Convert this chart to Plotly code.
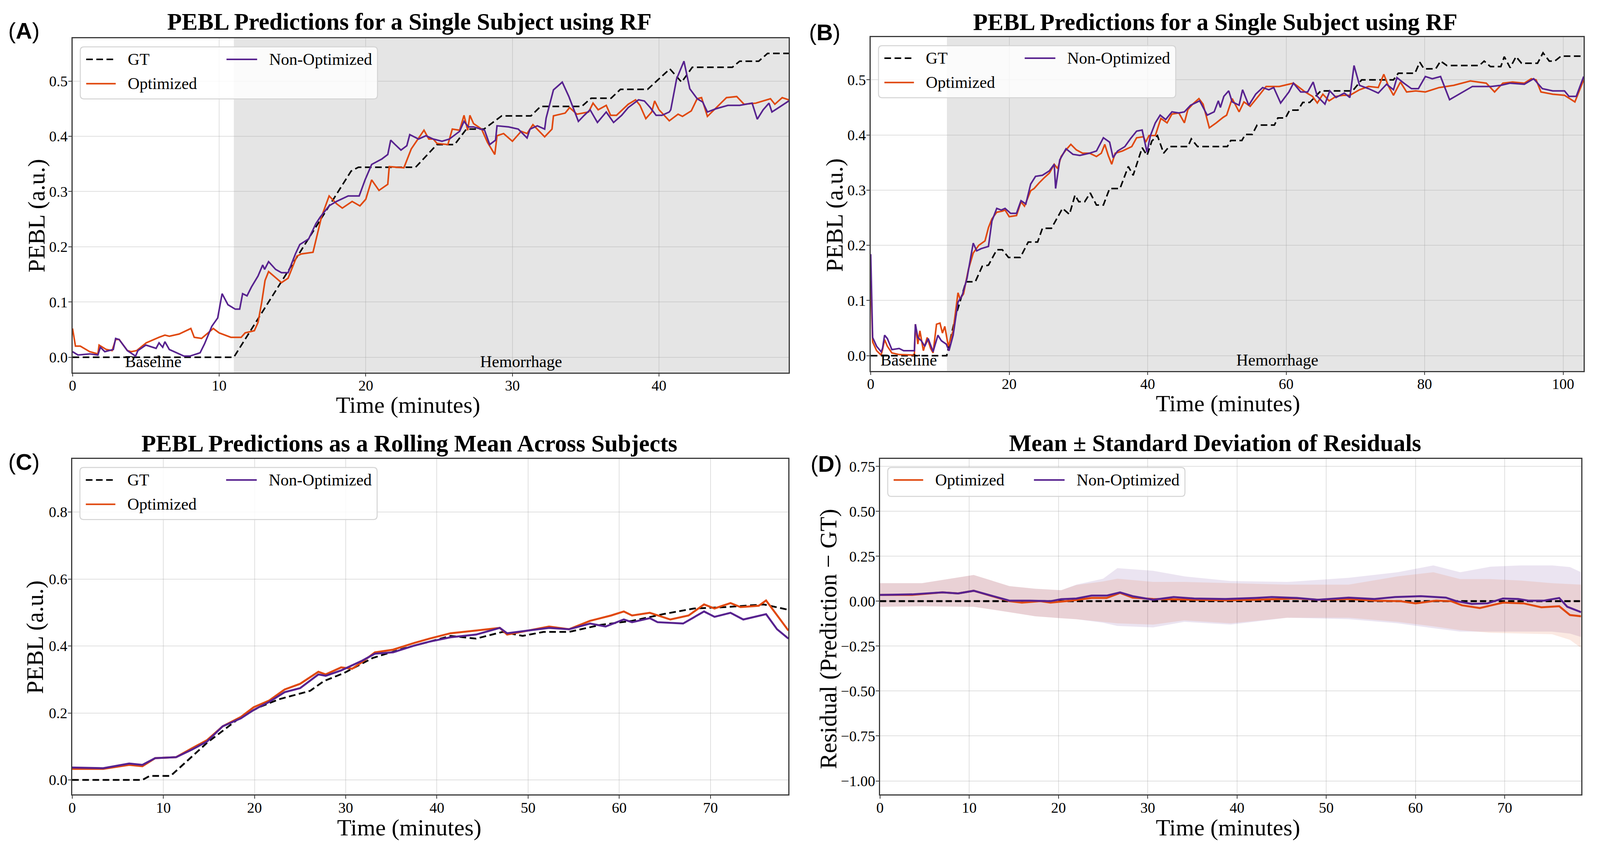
import plotly.graph_objects as go

W, H = 4332, 2179
FONT = "Liberation Serif"
ORANGE = "#e0480e"
PURPLE = "#57228f"
SPINE = "#3a3a3a"
GRID = "rgba(160,160,160,0.32)"
FS = 0.96  # font scale for the rendered page

# ---------------- data ----------------
hem_start = 11.0

# (A) single subject, short recording
a_gt_t = [0, 11.0, 19.0, 19.5, 23.4, 24.85, 26.06, 26.86, 28.06, 29.27, 31.27, 31.92, 34.73, 35.37,
          36.73, 37.37, 39.22, 40.74, 41.54, 42.27, 45.0, 45.5, 46.8, 47.4, 48.85]
a_gt_v = [0, 0, 0.337, 0.344, 0.344, 0.385, 0.385, 0.413, 0.413, 0.437, 0.437, 0.454, 0.454, 0.469,
          0.469, 0.485, 0.485, 0.522, 0.498, 0.525, 0.525, 0.536, 0.536, 0.550, 0.550]

a_opt_t = [0, 0.2, 0.53, 1.17, 1.73, 1.81, 2.3, 2.7, 2.94, 3.18, 3.74, 4.0, 4.38, 5.02, 5.9, 6.3, 6.6,
           7.27, 8.07, 8.3, 8.8, 9.6, 10.0, 10.8, 11.5, 11.77, 12.4, 12.65, 12.9, 13.13, 13.37, 14.25,
           14.7, 15.3, 15.6, 16.4, 16.98, 17.5, 18.0, 18.4, 19.07, 19.6, 20.0, 20.4, 20.9, 21.5, 21.6,
           22.6, 23.1, 23.5, 23.97, 24.3, 24.6, 24.86, 25.6, 25.9, 26.4, 26.7, 26.95, 27.1, 27.35, 27.9,
           28.3, 28.8, 28.95, 29.4, 30.0, 30.6, 31.0, 31.4, 32.2, 32.7, 32.8, 33.6, 33.9, 34.4, 35.2,
           35.5, 35.85, 36.4, 36.7, 37.1, 37.9, 38.4, 38.7, 39.1, 39.5, 39.7, 40.0, 40.7, 41.3, 41.6,
           42.2, 42.6, 42.9, 43.3, 43.9, 44.6, 45.3, 45.8, 46.6, 47.6, 47.9, 48.4, 48.85]
a_opt_v = [0.052, 0.020, 0.020, 0.010, 0.006, 0.022, 0.014, 0.012, 0.032, 0.032, 0.012, 0.010, 0.012,
           0.026, 0.036, 0.040, 0.038, 0.042, 0.052, 0.036, 0.034, 0.052, 0.044, 0.036, 0.036, 0.044,
           0.048, 0.063, 0.099, 0.139, 0.155, 0.135, 0.143, 0.183, 0.187, 0.190, 0.254, 0.292, 0.278,
           0.270, 0.282, 0.274, 0.286, 0.321, 0.302, 0.313, 0.345, 0.343, 0.377, 0.393, 0.411, 0.395,
           0.395, 0.387, 0.385, 0.413, 0.411, 0.438, 0.411, 0.438, 0.423, 0.413, 0.389, 0.367, 0.401,
           0.405, 0.391, 0.409, 0.405, 0.421, 0.399, 0.413, 0.437, 0.442, 0.452, 0.440, 0.444, 0.460,
           0.448, 0.456, 0.438, 0.438, 0.458, 0.466, 0.456, 0.432, 0.444, 0.464, 0.448, 0.428, 0.440,
           0.436, 0.446, 0.468, 0.470, 0.436, 0.452, 0.470, 0.472, 0.458, 0.460, 0.468, 0.458, 0.470,
           0.466]

a_non_t = [0, 0.37, 1.17, 1.73, 1.9, 2.2, 2.78, 2.94, 3.18, 3.74, 4.3, 4.46, 5.0, 5.7, 5.9, 6.15, 6.3,
           6.6, 7.6, 8.0, 8.7, 9.0, 9.5, 9.9, 10.2, 10.6, 11.1, 11.4, 11.6, 11.9, 12.2, 12.65, 12.97,
           13.1, 13.37, 13.85, 14.25, 14.7, 15.2, 15.5, 16.1, 16.6, 16.9, 17.5, 18.0, 18.8, 19.55,
           19.95, 20.4, 21.1, 21.5, 21.7, 22.0, 22.4, 22.8, 23.0, 23.6, 24.1, 24.6, 25.2, 25.7, 26.4,
           26.7, 27.0, 27.35, 28.1, 28.45, 28.85, 28.95, 29.75, 30.4, 31.0, 31.2, 31.7, 32.2, 32.3,
           32.8, 33.4, 33.85, 34.5, 34.9, 35.3, 35.8, 36.4, 36.9, 37.45, 37.9, 38.6, 39.0, 39.4, 39.8,
           40.2, 40.7, 40.8, 41.2, 41.7, 42.1, 42.6, 42.98, 43.3, 43.9, 44.7, 45.5, 46.35, 46.7, 47.1,
           47.5, 47.7, 48.05, 48.7, 48.85]
a_non_v = [0.010, 0.004, 0.006, 0.004, 0.018, 0.010, 0.014, 0.034, 0.032, 0.012, 0.002, 0.012, 0.022,
           0.016, 0.026, 0.018, 0.028, 0.014, 0.002, 0.002, 0.008, 0.024, 0.056, 0.071, 0.115, 0.095,
           0.087, 0.087, 0.115, 0.111, 0.127, 0.147, 0.167, 0.159, 0.173, 0.159, 0.153, 0.153, 0.187,
           0.204, 0.214, 0.242, 0.254, 0.274, 0.282, 0.292, 0.292, 0.321, 0.349, 0.359, 0.367, 0.393,
           0.385, 0.375, 0.383, 0.403, 0.395, 0.401, 0.395, 0.391, 0.395, 0.409, 0.427, 0.417, 0.417,
           0.411, 0.385, 0.393, 0.419, 0.417, 0.413, 0.397, 0.413, 0.419, 0.413, 0.433, 0.484, 0.498,
           0.472, 0.427, 0.438, 0.448, 0.425, 0.444, 0.425, 0.438, 0.452, 0.466, 0.464, 0.452, 0.438,
           0.438, 0.444, 0.448, 0.504, 0.536, 0.486, 0.468, 0.462, 0.444, 0.450, 0.456, 0.456, 0.460,
           0.431, 0.448, 0.460, 0.444, 0.450, 0.462, 0.464]

# (B) single subject, long recording
b_gt_t = [0, 10.97, 12.2, 13.75, 15.1, 16.1, 17.0, 18.2, 19.0, 19.9, 21.6, 22.75, 24.1, 24.8, 26.1,
          27.7, 28.7, 29.5, 30.05, 30.9, 31.7, 32.6, 33.6, 34.5, 36.0, 37.2, 37.9, 39.2, 39.9, 40.6,
          41.4, 42.3, 43.1, 45.8, 46.3, 47.2, 51.5, 52.0, 53.6, 54.1, 55.1, 55.8, 58.3, 58.8, 59.9,
          60.5, 61.7, 62.4, 63.4, 65.0, 69.6, 70.9, 75.5, 76.2, 78.6, 79.3, 79.9, 81.6, 82.3, 83.2,
          87.9, 88.6, 89.5, 91.0, 91.5, 92.35, 93.2, 94.0, 96.3, 97.1, 98.0, 98.8, 99.7, 102.97]
b_gt_v = [0, 0, 0.069, 0.134, 0.134, 0.162, 0.164, 0.192, 0.192, 0.178, 0.178, 0.206, 0.206, 0.231,
          0.231, 0.267, 0.256, 0.291, 0.279, 0.279, 0.295, 0.273, 0.273, 0.303, 0.303, 0.343, 0.327,
          0.377, 0.363, 0.389, 0.399, 0.367, 0.379, 0.379, 0.393, 0.379, 0.379, 0.390, 0.390, 0.401,
          0.401, 0.418, 0.418, 0.431, 0.431, 0.445, 0.445, 0.459, 0.459, 0.480, 0.480, 0.500, 0.500,
          0.512, 0.512, 0.532, 0.520, 0.520, 0.534, 0.526, 0.526, 0.534, 0.524, 0.524, 0.542, 0.522,
          0.542, 0.530, 0.530, 0.549, 0.534, 0.534, 0.543, 0.543]

b_opt_t = [0, 0.27, 0.85, 1.5, 1.7, 2.0, 2.4, 3.05, 4.1, 6.3, 6.45, 6.8, 7.1, 7.6, 8.15, 8.65, 9.0, 9.5,
           10.0, 10.35, 10.7, 11.2, 11.9, 12.6, 12.9, 13.4, 14.1, 14.8, 15.6, 16.5, 17.0, 17.5, 18.2,
           19.0, 19.4, 20.0, 21.05, 21.7, 22.2, 23.1, 23.6, 24.3, 25.1, 25.8, 26.5, 27.0, 27.5, 28.2,
           28.9, 29.7, 30.6, 31.6, 32.6, 33.3, 33.8, 34.3, 34.8, 35.3, 36.35, 37.7, 38.4, 39.4, 39.7,
           40.2, 41.1, 41.9, 42.8, 43.5, 44.5, 45.3, 45.8, 46.5, 47.4, 48.0, 48.9, 49.9, 50.9, 51.4,
           52.2, 53.2, 53.9, 54.8, 56.1, 57.1, 59.0, 61.05, 61.7, 62.75, 63.8, 64.5, 65.3, 66.2, 67.2,
           68.2, 69.2, 70.6, 71.9, 73.3, 74.1, 74.8, 75.5, 76.5, 77.4, 78.7, 80.1, 82.1, 84.2, 86.6,
           88.9, 90.1, 91.3, 92.7, 94.4, 95.4, 96.1, 96.8, 98.5, 100.2, 101.7, 102.97]
b_opt_v = [0.136, 0.025, 0.009, 0.001, 0.011, 0.029, 0.017, 0.005, 0.002, 0.001, 0.057, 0.021, 0.045,
           0.009, 0.033, 0.013, 0.005, 0.057, 0.059, 0.041, 0.053, 0.017, 0.045, 0.114, 0.103, 0.112,
           0.156, 0.186, 0.200, 0.208, 0.232, 0.248, 0.260, 0.262, 0.264, 0.252, 0.254, 0.279, 0.271,
           0.299, 0.303, 0.313, 0.323, 0.331, 0.347, 0.339, 0.361, 0.373, 0.383, 0.373, 0.367, 0.367,
           0.361, 0.367, 0.383, 0.363, 0.347, 0.367, 0.371, 0.379, 0.395, 0.397, 0.387, 0.399, 0.399,
           0.430, 0.422, 0.438, 0.440, 0.422, 0.446, 0.456, 0.466, 0.456, 0.413, 0.422, 0.432, 0.436,
           0.466, 0.442, 0.460, 0.452, 0.472, 0.488, 0.488, 0.494, 0.488, 0.478, 0.470, 0.458, 0.474,
           0.462, 0.470, 0.472, 0.472, 0.482, 0.488, 0.486, 0.510, 0.488, 0.472, 0.496, 0.478, 0.480,
           0.478, 0.486, 0.490, 0.498, 0.494, 0.478, 0.494, 0.496, 0.494, 0.502, 0.500, 0.478, 0.474,
           0.472, 0.460, 0.500]

b_non_t = [0, 0.27, 0.85, 1.5, 1.7, 2.0, 2.4, 3.05, 4.1, 4.75, 6.3, 6.45, 6.8, 7.3, 7.8, 8.3, 9.0, 9.7,
           10.2, 10.9, 11.3, 11.9, 12.6, 13.2, 13.9, 14.8, 15.3, 15.95, 17.0, 17.5, 18.2, 18.85, 19.4,
           20.2, 21.05, 21.7, 22.4, 23.1, 23.8, 24.8, 25.8, 26.5, 26.7, 27.3, 28.2, 29.2, 30.2, 31.6,
           32.6, 33.6, 34.5, 35.0, 35.65, 36.7, 37.5, 38.4, 39.2, 39.9, 40.4, 41.1, 41.8, 42.6, 43.5,
           44.5, 45.3, 46.2, 47.5, 48.6, 49.6, 50.2, 50.5, 51.0, 51.7, 52.2, 53.2, 53.7, 54.6, 55.6,
           56.6, 57.5, 58.2, 59.2, 60.4, 61.05, 62.1, 63.1, 63.9, 64.5, 65.6, 66.3, 67.2, 68.4, 69.2,
           69.8, 70.6, 71.9, 73.3, 74.5, 75.5, 76.0, 77.0, 78.1, 79.1, 80.1, 81.1, 82.3, 83.6, 85.5,
           86.9, 89.6, 91.0, 92.35, 94.4, 95.75, 97.0, 98.5, 100.2, 100.85, 101.9, 102.97]
b_non_v = [0.184, 0.033, 0.017, 0.007, 0.013, 0.037, 0.031, 0.011, 0.013, 0.009, 0.009, 0.057, 0.033,
           0.027, 0.017, 0.031, 0.007, 0.037, 0.027, 0.021, 0.009, 0.037, 0.097, 0.109, 0.140, 0.204,
           0.190, 0.194, 0.198, 0.244, 0.267, 0.264, 0.267, 0.258, 0.258, 0.281, 0.275, 0.311, 0.325,
           0.327, 0.335, 0.347, 0.303, 0.355, 0.375, 0.365, 0.363, 0.367, 0.371, 0.395, 0.387, 0.359,
           0.371, 0.379, 0.393, 0.407, 0.409, 0.369, 0.399, 0.422, 0.436, 0.428, 0.442, 0.440, 0.442,
           0.454, 0.462, 0.436, 0.442, 0.462, 0.450, 0.470, 0.480, 0.460, 0.454, 0.482, 0.454, 0.474,
           0.486, 0.482, 0.486, 0.458, 0.478, 0.494, 0.478, 0.478, 0.496, 0.470, 0.456, 0.480, 0.468,
           0.476, 0.468, 0.526, 0.490, 0.484, 0.476, 0.492, 0.482, 0.504, 0.494, 0.484, 0.484, 0.506,
           0.502, 0.506, 0.464, 0.478, 0.488, 0.488, 0.490, 0.494, 0.492, 0.502, 0.484, 0.480, 0.480,
           0.470, 0.470, 0.506]

# (C) rolling mean across subjects
c_gt_t = [0, 7.7, 8.5, 10.8, 11.65, 14.8, 18.5, 20.5, 22.7, 26.1, 27.6, 29.8, 32.95, 36.4, 39.2, 41.5,
          44.3, 47.2, 49.4, 51.7, 54.5, 57.95, 61.4, 64.8, 68.2, 71.6, 75.85, 77.3, 78.55]
c_gt_v = [0, 0, 0.012, 0.012, 0.033, 0.111, 0.188, 0.217, 0.241, 0.266, 0.295, 0.319, 0.364, 0.393,
          0.413, 0.430, 0.422, 0.442, 0.430, 0.442, 0.442, 0.463, 0.475, 0.495, 0.512, 0.516, 0.524,
          0.516, 0.508]

c_opt_t = [0, 3.4, 6.25, 7.7, 9.1, 11.4, 13.1, 14.8, 16.5, 18.5, 19.9, 21.6, 23.3, 25.0, 27.0, 27.8,
           29.5, 30.7, 31.8, 33.2, 35.2, 37.5, 39.2, 41.5, 44.3, 46.9, 47.7, 50.0, 52.3, 54.5, 56.8,
           59.1, 60.5, 61.4, 63.35, 65.6, 67.6, 69.3, 70.45, 72.2, 73.3, 75.3, 76.1, 77.0, 78.55]
c_opt_v = [0.033, 0.033, 0.045, 0.041, 0.065, 0.068, 0.094, 0.119, 0.160, 0.188, 0.217, 0.237, 0.270,
           0.287, 0.323, 0.315, 0.336, 0.332, 0.352, 0.381, 0.389, 0.409, 0.422, 0.438, 0.446, 0.454,
           0.434, 0.446, 0.458, 0.450, 0.475, 0.491, 0.503, 0.491, 0.499, 0.479, 0.491, 0.524, 0.512,
           0.528, 0.516, 0.520, 0.536, 0.503, 0.446]

c_non_t = [0, 3.4, 6.25, 7.7, 9.1, 11.4, 13.1, 14.8, 16.5, 18.5, 19.9, 21.6, 23.3, 25.0, 27.0, 27.8,
           29.5, 31.8, 33.2, 35.2, 37.5, 39.2, 41.5, 44.3, 46.9, 47.7, 50.0, 52.3, 54.5, 56.8, 58.5,
           60.5, 61.4, 63.35, 64.2, 67.0, 69.3, 70.45, 72.2, 73.6, 76.1, 77.3, 78.55]
c_non_v = [0.037, 0.035, 0.049, 0.045, 0.065, 0.068, 0.090, 0.115, 0.160, 0.184, 0.209, 0.233, 0.262,
           0.274, 0.315, 0.311, 0.327, 0.356, 0.377, 0.381, 0.401, 0.413, 0.426, 0.434, 0.454, 0.438,
           0.446, 0.454, 0.450, 0.467, 0.458, 0.479, 0.471, 0.483, 0.471, 0.467, 0.503, 0.487, 0.499,
           0.479, 0.495, 0.450, 0.422]

# (D) residuals, mean and +/- std
d_gt_t = [0, 78.55]
d_gt_v = [0.0, 0.0]

d_opt_t = [0, 3.6, 7.0, 8.75, 10.5, 12.2, 14.5, 15.9, 17.96, 19.1, 21.4, 23.7, 25.4, 26.9, 28.3, 30.6,
           32.9, 35.2, 38.7, 42.1, 46.7, 49.05, 52.5, 55.4, 58.3, 60.0, 62.3, 64.0, 65.2, 67.2, 69.8,
           72.1, 74.1, 76.1, 77.3, 78.55]
d_opt_v = [0.035, 0.035, 0.049, 0.043, 0.058, 0.034, 0.0, -0.008, 0.0, -0.008, 0.003, 0.018, 0.018,
           0.046, 0.020, 0.012, 0.011, 0.008, 0.005, 0.008, 0.015, 0.008, 0.012, 0.003, 0.0, -0.012,
           0.003, 0.0, -0.023, -0.038, -0.008, -0.012, -0.034, -0.028, -0.077, -0.084]

d_non_t = [0, 3.6, 7.0, 8.75, 10.5, 12.2, 14.5, 16.8, 19.1, 20.3, 22.0, 23.7, 25.4, 26.9, 28.3, 30.6,
           32.9, 35.2, 38.7, 42.1, 43.9, 46.7, 49.05, 52.5, 55.4, 57.7, 60.6, 63.4, 64.6, 66.3, 68.05,
           69.8, 71.5, 72.65, 74.4, 76.1, 77.0, 78.55]
d_non_v = [0.035, 0.038, 0.049, 0.043, 0.058, 0.034, 0.003, 0.003, 0.0, 0.011, 0.015, 0.031, 0.031,
           0.049, 0.028, 0.008, 0.023, 0.015, 0.012, 0.018, 0.023, 0.018, 0.008, 0.020, 0.012, 0.023,
           0.028, 0.020, 0.0, -0.015, -0.012, 0.015, 0.012, 0.003, 0.003, 0.018, -0.031, -0.061]

d_band_t = [0, 4.7, 10.5, 14.5, 17.4, 20.3, 22.0, 25.0, 26.6, 30.6, 34.1, 39.3, 45.6, 52.5, 58.0, 62.0,
            65.0, 68.4, 71.8, 75.3, 77.3, 78.55]
d_opt_hi = [0.10, 0.10, 0.146, 0.084, 0.069, 0.061, 0.09, 0.11, 0.125, 0.107, 0.107, 0.10, 0.092,
            0.092, 0.138, 0.161, 0.123, 0.123, 0.115, 0.10, 0.095, 0.092]
d_opt_lo = [-0.031, -0.028, -0.031, -0.061, -0.084, -0.095, -0.10, -0.115, -0.123, -0.130, -0.107,
            -0.123, -0.092, -0.092, -0.115, -0.14, -0.161, -0.176, -0.180, -0.184, -0.215, -0.26]
d_non_hi = [0.10, 0.10, 0.146, 0.084, 0.069, 0.061, 0.092, 0.125, 0.184, 0.169, 0.138, 0.112, 0.107,
            0.130, 0.161, 0.199, 0.161, 0.192, 0.199, 0.199, 0.19, 0.161]
d_non_lo = [-0.031, -0.028, -0.031, -0.061, -0.084, -0.095, -0.10, -0.12, -0.138, -0.146, -0.115,
            -0.130, -0.092, -0.100, -0.123, -0.15, -0.169, -0.169, -0.169, -0.169, -0.18, -0.199]

# ---------------- layout helpers ----------------
# axes boxes in reference pixels: left, right, top, bottom
BOX = {
    1: (197, 2137, 99, 953),
    2: (2359, 4290, 96, 949),
    3: (196, 2136, 1174, 2032),
    4: (2384, 4283, 1174, 2032),
}


# reference pixel -> paper fraction (small correction for the page margin)
def px(x):
    return (x * 1.006 - 19.7) / W


def py(y):
    return 1 - (y * 1.0097 - 10.3) / H


def ax(i):
    return ("x", "y") if i == 1 else (f"x{i}", f"y{i}")


fig = go.Figure()


def add_line(i, t, v, color, width, dash=None):
    xa, ya = ax(i)
    fig.add_trace(go.Scatter(x=t, y=v, mode="lines", xaxis=xa, yaxis=ya,
                             line=dict(color=color, width=width, dash=dash),
                             showlegend=False, hoverinfo="skip"))


def add_band(i, t, lo, hi, fill):
    xa, ya = ax(i)
    fig.add_trace(go.Scatter(x=list(t) + list(t[::-1]), y=list(hi) + list(lo[::-1]),
                             mode="lines", fill="toself", fillcolor=fill,
                             line=dict(width=0, color=fill), xaxis=xa, yaxis=ya,
                             showlegend=False, hoverinfo="skip"))


GT_DASH = "17px,9px"

# (A)
add_line(1, a_gt_t, a_gt_v, "black", 4, GT_DASH)
add_line(1, a_opt_t, a_opt_v, ORANGE, 4)
add_line(1, a_non_t, a_non_v, PURPLE, 4)
# (B)
add_line(2, b_gt_t, b_gt_v, "black", 4, GT_DASH)
add_line(2, b_opt_t, b_opt_v, ORANGE, 4)
add_line(2, b_non_t, b_non_v, PURPLE, 4)
# (C)
add_line(3, c_gt_t, c_gt_v, "black", 4.5, GT_DASH)
add_line(3, c_opt_t, c_opt_v, ORANGE, 5)
add_line(3, c_non_t, c_non_v, PURPLE, 5)
# (D)
add_band(4, d_band_t, d_non_lo, d_non_hi, "rgba(87,34,143,0.12)")
add_band(4, d_band_t, d_opt_lo, d_opt_hi, "rgba(224,72,14,0.12)")
add_line(4, d_gt_t, d_gt_v, "black", 5, "16px,8px")
add_line(4, d_opt_t, d_opt_v, ORANGE, 5)
add_line(4, d_non_t, d_non_v, PURPLE, 5)

tick_font = dict(family=FONT, size=round(40 * FS), color="black")
axis_common = dict(
    showline=True, mirror=True, linecolor=SPINE, linewidth=2.5,
    ticks="outside", ticklen=8, tickwidth=2, tickcolor=SPINE,
    showgrid=True, gridcolor=GRID, gridwidth=2, zeroline=False,
    tickfont=tick_font,
)

x_specs = {
    1: dict(range=[0, 48.85], tickvals=[0, 10, 20, 30, 40]),
    2: dict(range=[0, 102.97], tickvals=[0, 20, 40, 60, 80, 100]),
    3: dict(range=[0, 78.55], tickvals=[0, 10, 20, 30, 40, 50, 60, 70]),
    4: dict(range=[0, 78.55], tickvals=[0, 10, 20, 30, 40, 50, 60, 70]),
}
y_specs = {
    1: dict(range=[-0.0275, 0.5775], tickvals=[0, 0.1, 0.2, 0.3, 0.4, 0.5], tickformat=".1f"),
    2: dict(range=[-0.0275, 0.5775], tickvals=[0, 0.1, 0.2, 0.3, 0.4, 0.5], tickformat=".1f"),
    3: dict(range=[-0.0437, 0.9587], tickvals=[0, 0.2, 0.4, 0.6, 0.8], tickformat=".1f"),
    4: dict(range=[-1.076, 0.792], tickvals=[-1.0, -0.75, -0.5, -0.25, 0, 0.25, 0.5, 0.75],
            tickformat=".2f"),
}

layout_axes = {}
for i, (l, r, t, b) in BOX.items():
    xa, ya = ax(i)
    xkey = "xaxis" if i == 1 else f"xaxis{i}"
    ykey = "yaxis" if i == 1 else f"yaxis{i}"
    layout_axes[xkey] = dict(domain=[px(l), px(r)], anchor=ya, ticklabelstandoff=-10,
                             **axis_common, **x_specs[i])
    layout_axes[ykey] = dict(domain=[py(b), py(t)], anchor=xa, ticklabelstandoff=-6,
                             **axis_common, **y_specs[i])

shapes = []
annotations = []

# hemorrhage shading in (A) and (B)
for i, x_end in ((1, a_gt_t[-1]), (2, b_gt_t[-1])):
    xa, ya = ax(i)
    shapes.append(dict(type="rect", xref=xa, yref=f"{ya} domain", x0=hem_start, x1=x_end,
                       y0=0, y1=1, fillcolor="#e5e5e5", line=dict(width=0), layer="below"))

# phase labels
for i, xb, xh in ((1, 5.5, 30.6), (2, 5.5, 58.7)):
    xa, ya = ax(i)
    for xv, txt in ((xb, "Baseline"), (xh, "Hemorrhage")):
        annotations.append(dict(x=xv, y=0, xref=xa, yref=f"{ya} domain", text=txt,
                                showarrow=False, xanchor="center", yanchor="middle", yshift=28,
                                font=dict(family=FONT, size=round(44 * FS), color="black")))


def rounded_box(x0, y0, x1, y1, r=10):
    X0, X1 = px(x0), px(x1)
    Y0, Y1 = py(y1), py(y0)
    rx, ry = r / W, r / H
    return (f"M {X0 + rx},{Y1} L {X1 - rx},{Y1} Q {X1},{Y1} {X1},{Y1 - ry} "
            f"L {X1},{Y0 + ry} Q {X1},{Y0} {X1 - rx},{Y0} L {X0 + rx},{Y0} "
            f"Q {X0},{Y0} {X0},{Y0 + ry} L {X0},{Y1 - ry} Q {X0},{Y1} {X0 + rx},{Y1} Z")


def add_legend(i, entries, rows):
    l, r, t, b = BOX[i]
    bx0, by0 = l + 21, t + 22
    bx1, by1 = bx0 + 805, by0 + (133 if rows == 2 else 74)
    shapes.append(dict(type="path", xref="paper", yref="paper", path=rounded_box(bx0, by0, bx1, by1),
                       fillcolor="rgba(255,255,255,0.82)", line=dict(color="#d4d4d4", width=2.5),
                       layer="above"))
    for name, color, dash, col, row in entries:
        yy = t + 54 + row * 62
        lx0, lx1, tx = (l + 37, l + 117, l + 147) if col == 0 else (l + 417, l + 500, l + 530)
        shapes.append(dict(type="line", xref="paper", yref="paper", x0=px(lx0), x1=px(lx1),
                           y0=py(yy), y1=py(yy), line=dict(color=color, width=4, dash=dash),
                           layer="above"))
        annotations.append(dict(x=px(tx), y=py(yy), xref="paper", yref="paper", text=name,
                                showarrow=False, xanchor="left", yanchor="middle",
                                font=dict(family=FONT, size=round(44 * FS), color="black")))


three = [("GT", "black", GT_DASH, 0, 0), ("Optimized", ORANGE, None, 0, 1),
         ("Non-Optimized", PURPLE, None, 1, 0)]
add_legend(1, three, 2)
add_legend(2, three, 2)
add_legend(3, three, 2)
add_legend(4, [("Optimized", ORANGE, None, 0, 0), ("Non-Optimized", PURPLE, None, 1, 0)], 1)

titles = {
    1: ("PEBL Predictions for a Single Subject using RF", 1109, 57),
    2: ("PEBL Predictions for a Single Subject using RF", 3292, 58),
    3: ("PEBL Predictions as a Rolling Mean Across Subjects", 1109, 1135),
    4: ("Mean ± Standard Deviation of Residuals", 3292, 1134),
}
letters = {1: ("A", 66, 80), 2: ("B", 2235, 84), 3: ("C", 66, 1182), 4: ("D", 2239, 1187)}
xlabels = {1: (1106, 1036), 2: (3326, 1032), 3: (1109, 2116), 4: (3326, 2116)}
ylabels = {
    1: ("PEBL (a.u.)", 100, 553),
    2: ("PEBL (a.u.)", 2261, 551),
    3: ("PEBL (a.u.)", 95, 1630),
    4: ("Residual (Prediction − GT)", 2244, 1634),
}

for i in BOX:
    txt, x, y = titles[i]
    annotations.append(dict(x=px(x), y=py(y), xref="paper", yref="paper", text=f"<b>{txt}</b>",
                            showarrow=False, xanchor="center", yanchor="middle",
                            font=dict(family=FONT, size=round(64 * FS), color="black")))
    let, x, y = letters[i]
    annotations.append(dict(x=px(x), y=py(y), xref="paper", yref="paper", text=f"(<b>{let}</b>)",
                            showarrow=False, xanchor="center", yanchor="middle",
                            font=dict(family="Liberation Sans", size=round(60 * FS), color="black")))
    x, y = xlabels[i]
    annotations.append(dict(x=px(x), y=py(y), xref="paper", yref="paper", text="Time (minutes)",
                            showarrow=False, xanchor="center", yanchor="middle",
                            font=dict(family=FONT, size=round(62 * FS), color="black")))
    txt, x, y = ylabels[i]
    annotations.append(dict(x=px(x), y=py(y), xref="paper", yref="paper", text=txt, textangle=-90,
                            showarrow=False, xanchor="center", yanchor="middle",
                            font=dict(family=FONT, size=round(64 * FS), color="black")))

# no fixed width/height: the figure fills the browser window
fig.update_layout(
    autosize=True,
    margin=dict(l=0, r=0, t=0, b=0),
    paper_bgcolor="white", plot_bgcolor="white",
    font=dict(family=FONT, color="black"),
    shapes=shapes, annotations=annotations,
    **layout_axes,
)

fig.write_html("out.html")
